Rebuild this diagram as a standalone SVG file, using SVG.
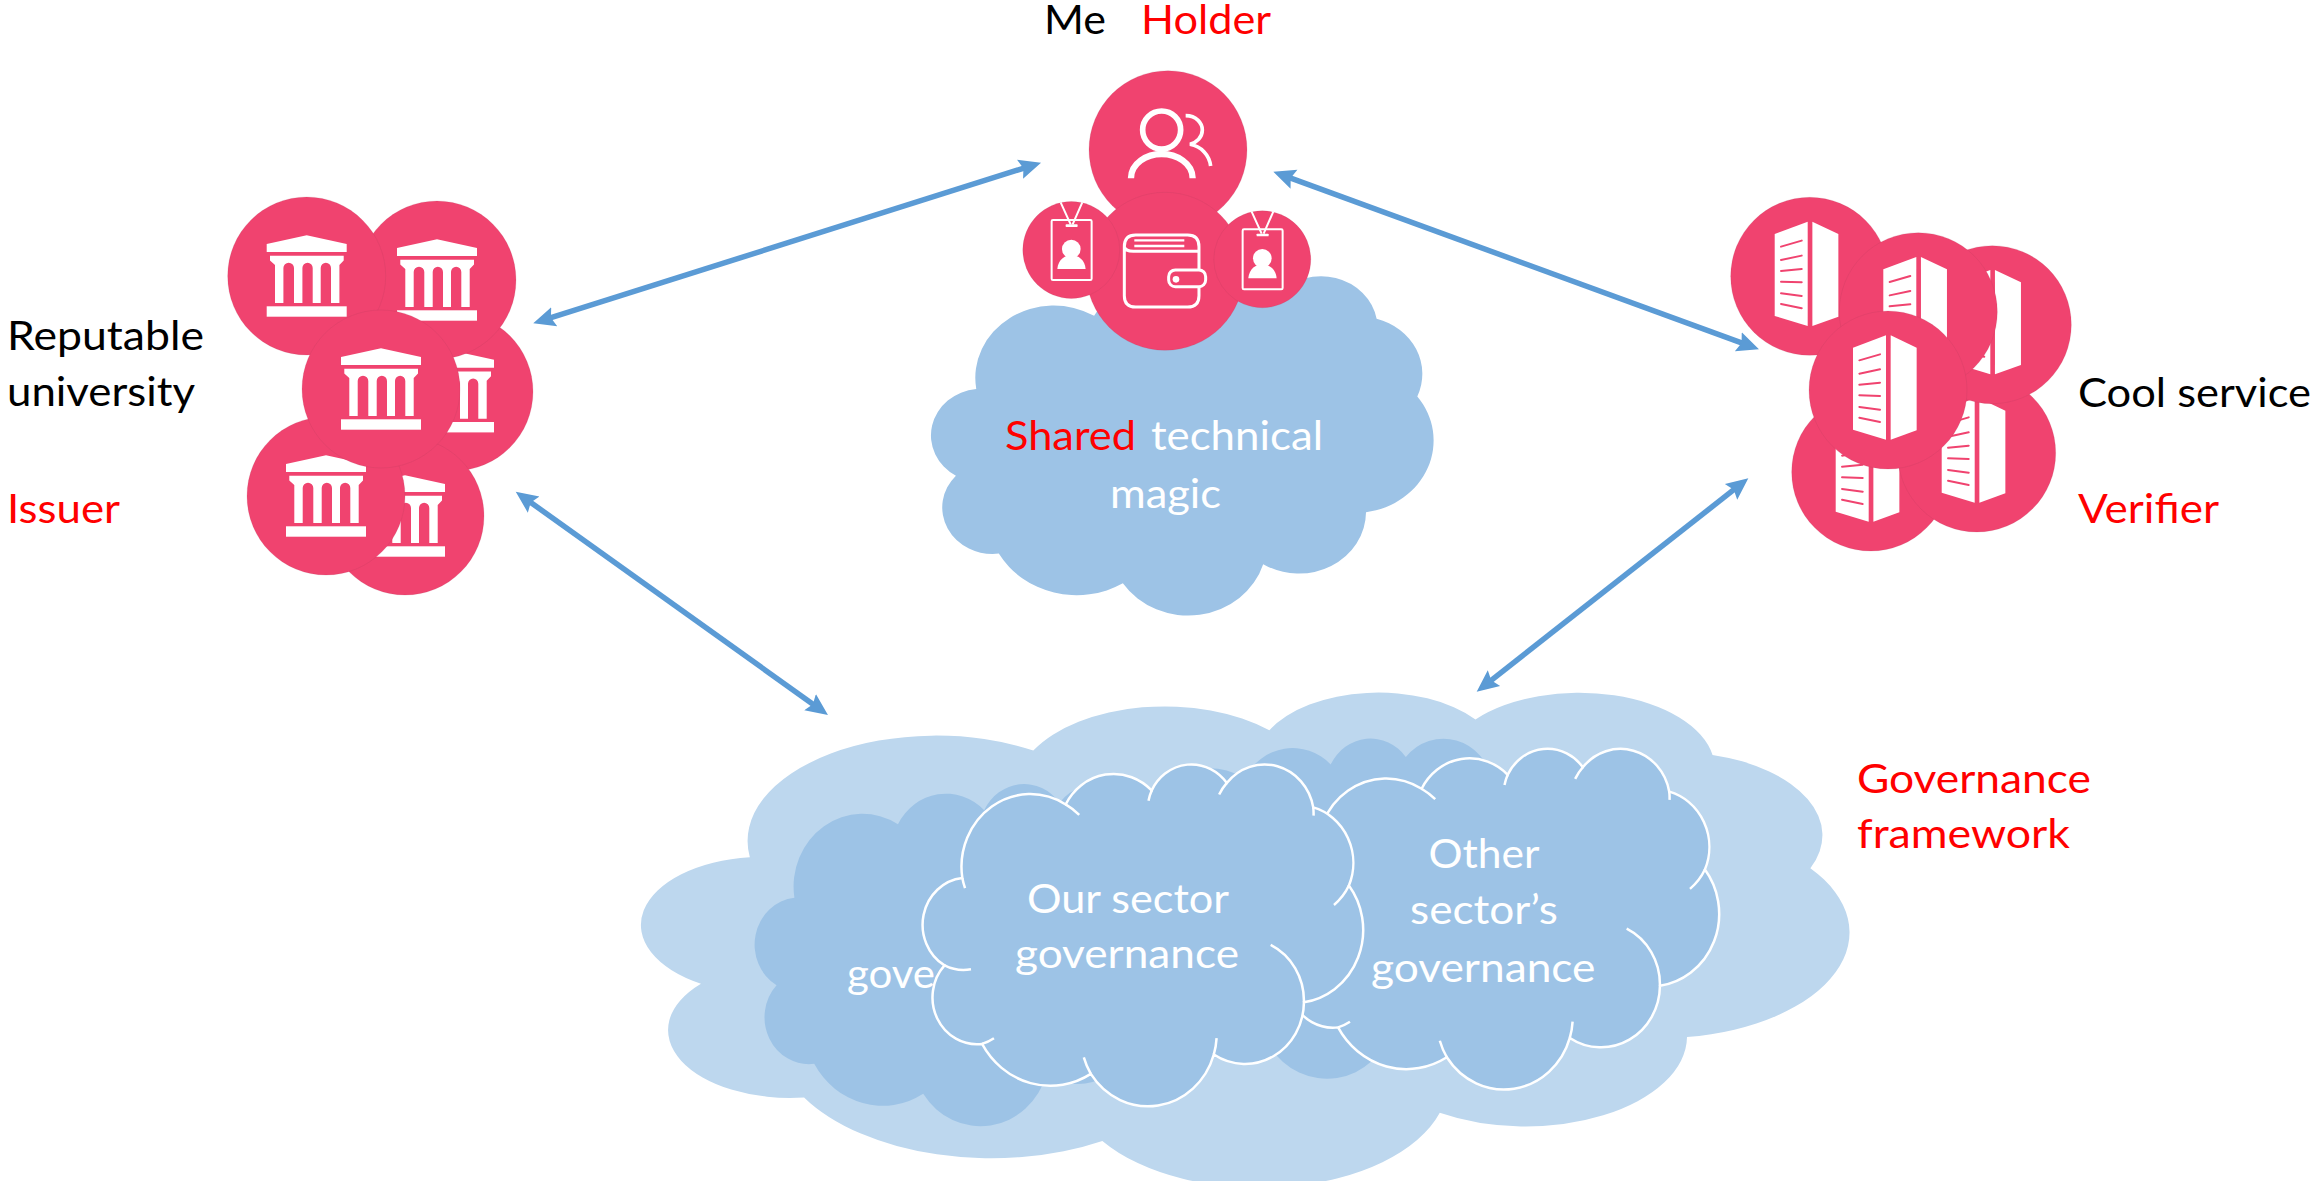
<svg xmlns="http://www.w3.org/2000/svg" xmlns:xlink="http://www.w3.org/1999/xlink" width="2315" height="1181" viewBox="0 0 2315 1181">
<style>
text{font-family:"Lato","Open Sans","Liberation Sans",sans-serif;font-size:41px}
.k{fill:#000}.r{fill:#f00}.w{fill:#fff}
.disc{fill:#F0436F;stroke:#a03a55;stroke-opacity:.25;stroke-width:.6}
.i{fill:#fff}
.cut{stroke:#F0436F;stroke-width:6;fill:none;stroke-linecap:round}
.ln{fill:none;stroke:#fff;stroke-linecap:butt}
.cloudshape{vector-effect:non-scaling-stroke}
.c1{fill:#BDD7EE}.c2{fill:#9DC3E6}
.cs{fill:#9DC3E6;stroke:#fff;stroke-width:2.5}
.cd{fill:none;stroke:#fff;stroke-width:2.5;vector-effect:non-scaling-stroke}
.conn{stroke:#5B9BD5;stroke-width:5.5;fill:none;marker-start:url(#head);marker-end:url(#head)}
</style>
<defs>
<marker id="head" markerUnits="userSpaceOnUse" markerWidth="24" markerHeight="24" viewBox="0 0 24 24" refX="10" refY="12" orient="auto-start-reverse">
<path d="M0 2 L22 12 L0 22 L3.500 12Z" fill="#5B9BD5"/>
</marker>
<path id="cloud" class="cloudshape" d="M3860 14505A6753 9190 0 0 1 14004 5201A5333 7267 0 0 1 22454 3432A4365 5945 0 0 1 29831 2482A4857 6595 0 0 1 38316 5577A5333 7273 0 0 1 41817 15460A6775 9220 0 0 1 37402 30204A5785 7867 0 0 1 28553 36814A6752 9215 0 0 1 16477 39263A7720 10543 0 0 1 5801 35473A4360 5918 0 0 1 2111 25549A4345 5945 0 0 1 3860 14505Z"/>
<path id="clouddetail" class="cd" d="M14004 5201A6753 9190 0 0 1 15338 6532M22141 4720A4365 5945 0 0 1 22454 3432M29078 3952A4857 6595 0 0 1 29831 2482M38316 5577A4857 6595 0 0 1 38346 6616M41817 15460A5333 7273 0 0 1 40351 17910M34135 22955A5785 7867 0 0 1 37402 30204M28827 34751A6752 9215 0 0 1 28553 36814M16477 39263A6752 9215 0 0 1 15789 37168M6968 34768A4360 5918 0 0 1 5801 35473M4712 26042A4345 5945 0 0 1 2111 25549M4127 15789A6753 9190 0 0 1 3860 14505"/>
<g id="bank">
<circle class="disc" r="79"/>
<path class="i" d="M0-40.7L40-32V-24H-40V-32Z"/>
<path class="i" d="M-36.7-20.3H37V-15.5L32.7-11V27H24.3V-8A5.1 5.1 0 0 0 14-8V27H6V-8A5.1 5.1 0 0 0-4.3-8V27H-12.7V-8A5.3 5.3 0 0 0-23.3-8V27H-31.7V-11L-36.7-15.5Z"/>
<rect class="i" x="-40" y="30.3" width="80" height="10.4"/>
</g>
<g id="building">
<circle class="disc" r="79"/>
<g transform="scale(.3333) translate(-329,-319)">
<path class="i" d="M224 192L323 155V468L224 438Z"/>
<path class="i" d="M337 155L415 192V440L337 468Z"/>
<path class="cut" d="M243 230L305 212M243 270L305 257M243 303L305 297M243 335L305 337M243 370L305 378M243 402L305 415"/>
</g>
</g>
<g id="badge">
<circle class="disc" r="48.5"/>
<g transform="scale(.3333) translate(-214,-600)">
<rect x="155" y="510" width="120" height="180" rx="4" class="ln" stroke-width="6"/>
<rect x="197" y="523" width="36" height="8" rx="2" class="i"/>
<path class="ln" stroke-width="6" d="M182 457L212 523M247 457L218 523"/>
<circle cx="214" cy="597" r="28" class="i"/>
<path class="i" d="M172 657C175 628 195 615 214 615C235 615 255 630 257 657Z"/>
</g>
</g>
</defs>

<g id="cloud-framework">
<use href="#cloud" class="c1" transform="translate(642,691) scale(.02794,.011458)"/>
<use href="#cloud" class="c2" transform="translate(755,783) scale(.010208,.007917)"/>
<text class="w" x="847" y="988" textLength="88" lengthAdjust="spacingAndGlyphs">gove</text>
<use href="#cloud" class="c2" transform="translate(1102,737.5) scale(.010185,.00787)"/>
<text class="r" x="1857" y="793" textLength="234" lengthAdjust="spacingAndGlyphs">Governance</text>
<text class="r" x="1857" y="848" textLength="213" lengthAdjust="spacingAndGlyphs">framework</text>
</g>
<g id="cloud-other-sector">
<use href="#cloud" class="cs" transform="translate(1279,747.7) scale(.010185,.007884)"/>
<use href="#clouddetail" transform="translate(1279,747.7) scale(.010185,.007884)"/>
<text class="w" x="1428.5" y="868" textLength="111" lengthAdjust="spacingAndGlyphs">Other</text>
<text class="w" x="1410" y="924" textLength="148" lengthAdjust="spacingAndGlyphs">sector’s</text>
<text class="w" x="1371" y="982" textLength="224.500" lengthAdjust="spacingAndGlyphs">governance</text>
</g>
<g id="cloud-our-sector">
<use href="#cloud" class="cs" transform="translate(923,763.3) scale(.010185,.00791)"/>
<use href="#clouddetail" transform="translate(923,763.3) scale(.010185,.00791)"/>
<text class="w" x="1027" y="913" textLength="202" lengthAdjust="spacingAndGlyphs">Our sector</text>
<text class="w" x="1015" y="968" textLength="224" lengthAdjust="spacingAndGlyphs">governance</text>
</g>

<g id="cloud-technical">
<use href="#cloud" class="c2" transform="translate(931.4,275) scale(.01162,.007854)"/>
<text class="r" x="1005" y="450" textLength="131" lengthAdjust="spacingAndGlyphs">Shared</text>
<text class="w" x="1151" y="450" textLength="172" lengthAdjust="spacingAndGlyphs">technical</text>
<text class="w" x="1110" y="508" textLength="111" lengthAdjust="spacingAndGlyphs">magic</text>
</g>

<g id="connectors">
<path class="conn" d="M544.700 319.700L1029.600 166.300"/>
<path class="conn" d="M1284.600 175.800L1747.700 345.200"/>
<path class="conn" d="M525.500 498.700L818.200 708"/>
<path class="conn" d="M1738.900 485.700L1486.100 684.300"/>
</g>

<g id="issuer">
<use href="#bank" x="454" y="391.700"/>
<use href="#bank" x="405" y="516"/>
<use href="#bank" x="437" y="280"/>
<use href="#bank" x="306.700" y="276"/>
<use href="#bank" x="326" y="496"/>
<use href="#bank" x="381" y="389"/>
<text class="k" x="7" y="350" textLength="197" lengthAdjust="spacingAndGlyphs">Reputable</text>
<text class="k" x="7" y="406" textLength="188" lengthAdjust="spacingAndGlyphs">university</text>
<text class="r" x="7" y="523" textLength="113" lengthAdjust="spacingAndGlyphs">Issuer</text>
</g>

<g id="holder">
<circle class="disc" cx="1168" cy="149.700" r="79"/>
<g transform="translate(1000,50) scale(.3333)">
<circle cx="485" cy="240" r="57" fill="none" stroke="#fff" stroke-width="17"/>
<path class="ln" stroke-width="19" d="M393 385C393 340 440 312 485 312C530 312 578 340 578 385"/>
<path class="ln" stroke-width="11" d="M557 197C590 197 607 220 607 240C607 262 590 278 570 283C605 290 628 315 632 348"/>
</g>
<circle class="disc" cx="1165" cy="271.300" r="79"/>
<g transform="translate(1000,50) scale(.3333)">
<path class="ln" stroke-width="9" d="M597 660V737Q597 771 563 771H407Q373 771 373 737V590Q373 555 407 555H563Q597 555 597 590V660M373 590Q376 604 400 604H597"/>
<rect x="506" y="660" width="111" height="50" rx="20" fill="#F0436F" stroke="#fff" stroke-width="9"/>
<circle cx="528" cy="688" r="10" class="i"/>
<path class="ln" stroke-width="7" d="M403 571H553M403 588H553"/>
</g>
<use href="#badge" x="1071.300" y="250"/>
<use href="#badge" x="1262.300" y="259.300"/>
<text class="k" x="1044" y="34" textLength="62" lengthAdjust="spacingAndGlyphs">Me</text>
<text class="r" x="1141" y="34" textLength="130" lengthAdjust="spacingAndGlyphs">Holder</text>
</g>

<g id="verifier">
<use href="#building" x="1870.700" y="472"/>
<use href="#building" x="1976.700" y="453"/>
<use href="#building" x="1992.300" y="324.700"/>
<use href="#building" x="1809.700" y="276.300"/>
<use href="#building" x="1918.300" y="311.700"/>
<use href="#building" x="1888" y="390"/>
<text class="k" x="2078" y="407" textLength="233" lengthAdjust="spacingAndGlyphs">Cool service</text>
<text class="r" x="2078" y="523" textLength="141" lengthAdjust="spacingAndGlyphs">Verifier</text>
</g>
</svg>
